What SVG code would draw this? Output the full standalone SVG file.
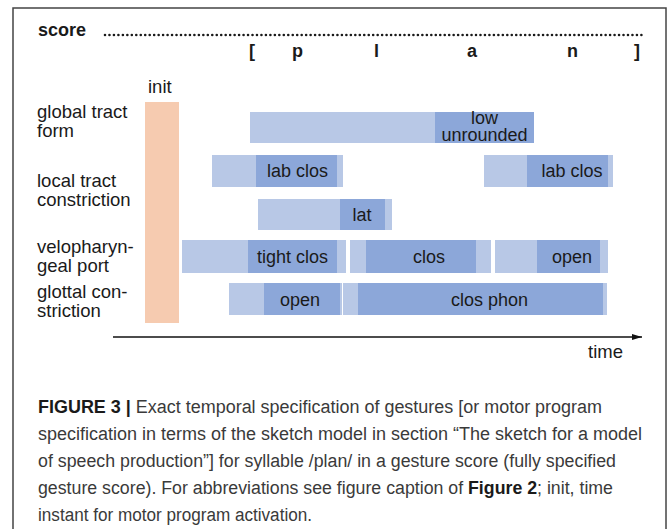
<svg xmlns="http://www.w3.org/2000/svg" width="672" height="529" viewBox="0 0 672 529">
<style>
text{font-family:"Liberation Sans",Arial,sans-serif;fill:#1a1a1a}
.lbl{font-size:18.5px}
.b{font-size:18px;text-anchor:middle}
.hd{font-size:18px;font-weight:bold}
.cap{font-size:18px;fill:#3a3a3a}
.capb{font-weight:bold;fill:#1a1a1a}
.lt{fill:#b8c8e6}
.dk{fill:#8ca7d9}
</style>
<defs>
<marker id="arr" viewBox="0 0 10 6" refX="10" refY="3" markerWidth="10" markerHeight="6" markerUnits="userSpaceOnUse" orient="auto">
<path d="M0,0 L10,3 L0,6 Z" fill="#111"/>
</marker>
</defs>
<rect x="0" y="0" width="672" height="529" fill="#fff"/>
<rect x="13" y="8" width="653" height="540" fill="none" stroke="#444" stroke-width="1.5"/>

<g id="score">
<text class="hd" x="38" y="36">score</text>
<line x1="105" y1="35" x2="642" y2="35" stroke="#1a1a1a" stroke-width="2.6" stroke-linecap="round" stroke-dasharray="0 4.47"/>
<text class="hd" x="249" y="57">[</text>
<text class="hd" x="292" y="57">p</text>
<text class="hd" x="374" y="57">l</text>
<text class="hd" x="467" y="57">a</text>
<text class="hd" x="567" y="57">n</text>
<text class="hd" x="634" y="57">]</text>
</g>

<g id="labels">
<text class="lbl" x="37" y="118">global tract</text>
<text class="lbl" x="37" y="137">form</text>
<text class="lbl" x="37" y="187">local tract</text>
<text class="lbl" x="37" y="206">constriction</text>
<text class="lbl" x="37" y="253">velopharyn-</text>
<text class="lbl" x="37" y="272">geal port</text>
<text class="lbl" x="37" y="298">glottal con-</text>
<text class="lbl" x="37" y="317">striction</text>
</g>

<g id="init">
<text class="lbl" x="148" y="93">init</text>
<rect x="145" y="102" width="34" height="221" fill="#f6cbb0"/>
</g>

<g id="global-low-unrounded">
<rect class="lt" x="250" y="112" width="284" height="31"/>
<rect class="dk" x="435" y="112" width="99" height="31"/>
<text class="b" x="484.5" y="123.5">low</text>
<text class="b" x="484.5" y="140.5">unrounded</text>
</g>

<g id="local-lab-clos-1">
<rect class="lt" x="212" y="155" width="131" height="32"/>
<rect class="dk" x="256" y="155" width="81" height="32"/>
<text class="b" x="297.5" y="177">lab clos</text>
</g>

<g id="local-lab-clos-2">
<rect class="lt" x="484" y="155" width="129" height="32"/>
<rect class="dk" x="527" y="155" width="81" height="32"/>
<text class="b" x="572" y="177">lab clos</text>
</g>

<g id="local-lat">
<rect class="lt" x="258" y="199" width="134" height="31"/>
<rect class="dk" x="340" y="199" width="45" height="31"/>
<text class="b" x="362" y="221">lat</text>
</g>

<g id="velo-tight-clos">
<rect class="lt" x="182" y="240" width="164" height="33"/>
<rect class="dk" x="248" y="240" width="89" height="33"/>
<text class="b" x="292.5" y="263">tight clos</text>
</g>

<g id="velo-clos">
<rect class="lt" x="350" y="240" width="141" height="33"/>
<rect class="dk" x="366" y="240" width="110" height="33"/>
<text class="b" x="429" y="263">clos</text>
</g>

<g id="velo-open">
<rect class="lt" x="495" y="240" width="113" height="33"/>
<rect class="dk" x="537" y="240" width="63" height="33"/>
<text class="b" x="572" y="263">open</text>
</g>

<g id="glottal-open">
<rect class="lt" x="229" y="283" width="113" height="32"/>
<rect class="dk" x="264" y="283" width="76" height="32"/>
<text class="b" x="300" y="305.5">open</text>
</g>

<g id="glottal-clos-phon">
<rect class="lt" x="343" y="283" width="264" height="32"/>
<rect class="dk" x="358" y="283" width="245" height="32"/>
<text class="b" x="489.5" y="305.5">clos phon</text>
</g>

<g id="connectors">
<line x1="113" y1="337" x2="642" y2="337" stroke="#111" stroke-width="1.6" marker-end="url(#arr)"/>
</g>
<text class="lbl" x="588" y="358">time</text>

<g id="caption">
<text class="cap" x="38" y="413" textLength="564" lengthAdjust="spacingAndGlyphs"><tspan class="capb">FIGURE 3 |</tspan> Exact temporal specification of gestures [or motor program</text>
<text class="cap" x="38" y="440" textLength="604" lengthAdjust="spacingAndGlyphs">specification in terms of the sketch model in section “The sketch for a model</text>
<text class="cap" x="38" y="467" textLength="578" lengthAdjust="spacingAndGlyphs">of speech production”] for syllable /plan/ in a gesture score (fully specified</text>
<text class="cap" x="38" y="494" textLength="575" lengthAdjust="spacingAndGlyphs">gesture score). For abbreviations see figure caption of <tspan class="capb">Figure 2</tspan>; init, time</text>
<text class="cap" x="38" y="521" textLength="274" lengthAdjust="spacingAndGlyphs">instant for motor program activation.</text>
</g>
</svg>
